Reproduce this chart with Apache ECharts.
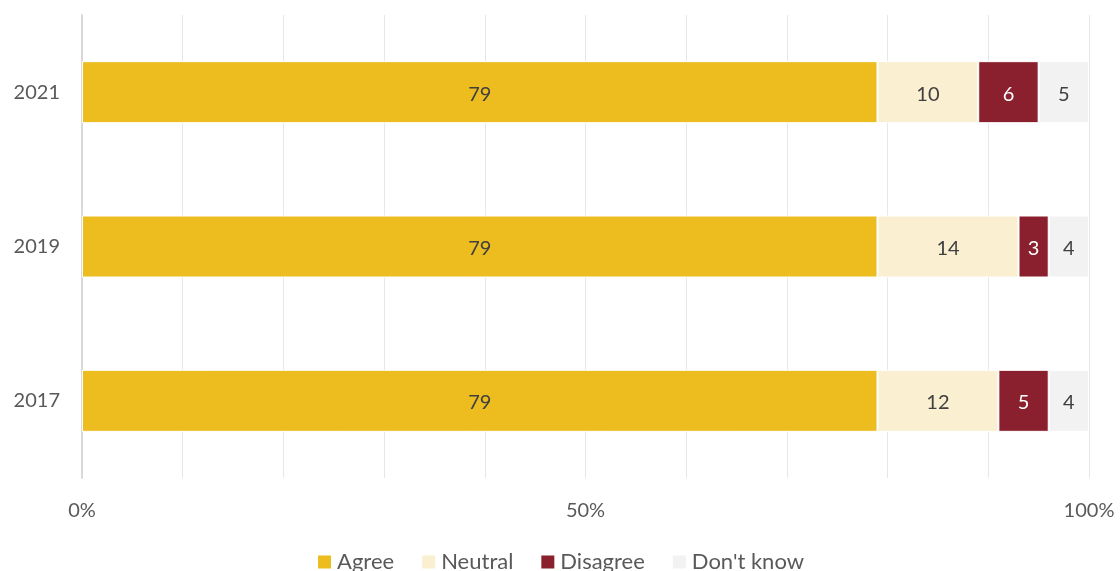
<!DOCTYPE html>
<html>
<head>
<meta charset="utf-8">
<script src="https://cdn.jsdelivr.net/npm/echarts@6/dist/echarts.min.js"></script>
<style>
  html, body { margin: 0; padding: 0; background: #ffffff; }
  #chart { width: 1120px; height: 571px; }
</style>
</head>
<body>
<div id="chart"></div>
<script>
// Survey years (bottom to top on the category axis)
const years = ['2017', '2019', '2021'];

// Share of responses per year, in percent
const agree     = [79, 79, 79];
const neutral   = [12, 14, 10];
const disagree  = [5, 3, 6];
const dontKnow  = [4, 4, 5];

// Tick labels shown on the value axis
const shownTicks = [0, 50, 100];

const FONT = 'Lato, "Open Sans", sans-serif';

function seriesOf(name, values, color, labelColor) {
  return {
    name: name,
    type: 'bar',
    stack: 'total',
    barWidth: 62,
    data: values,
    itemStyle: { color: color, borderColor: '#ffffff', borderWidth: 1 },
    label: {
      show: true,
      position: 'inside',
      offset: [0, 2],
      color: labelColor,
      fontFamily: FONT,
      fontSize: 20
    },
    emphasis: { disabled: true }
  };
}

const chart = echarts.init(document.getElementById('chart'), null, { renderer: 'canvas' });
chart.setOption({
  animation: false,
  backgroundColor: '#ffffff',
  grid: { left: 82, right: 31, top: 15, bottom: 93, containLabel: false },
  xAxis: {
    type: 'value',
    min: 0,
    max: 100,
    interval: 10,
    axisLine: { show: false },
    axisTick: { show: false },
    splitLine: { show: true, lineStyle: { color: '#E7E7E7', width: 1 } },
    axisLabel: {
      margin: 23,
      color: '#595959',
      fontFamily: FONT,
      fontSize: 20,
      formatter: v => shownTicks.includes(v) ? v + '%' : ''
    }
  },
  yAxis: {
    type: 'category',
    data: years,
    axisLine: { show: true, lineStyle: { color: '#D9D9D9', width: 2 } },
    axisTick: { show: false },
    axisLabel: {
      margin: 22,
      color: '#595959',
      fontFamily: FONT,
      fontSize: 20,
      padding: [4, 0, 0, 0]
    }
  },
  legend: {
    bottom: -7,
    left: 'center',
    itemWidth: 15,
    itemHeight: 15,
    itemGap: 26,
    icon: 'rect',
    textStyle: { color: '#595959', fontFamily: FONT, fontSize: 22 },
    data: ['Agree', 'Neutral', 'Disagree', "Don't know"]
  },
  series: [
    seriesOf('Agree', agree, '#EDBD1F', '#404040'),
    seriesOf('Neutral', neutral, '#FBEFD1', '#404040'),
    seriesOf('Disagree', disagree, '#8A1F2D', '#ffffff'),
    seriesOf("Don't know", dontKnow, '#F2F2F2', '#404040')
  ]
});
</script>
</body>
</html>
